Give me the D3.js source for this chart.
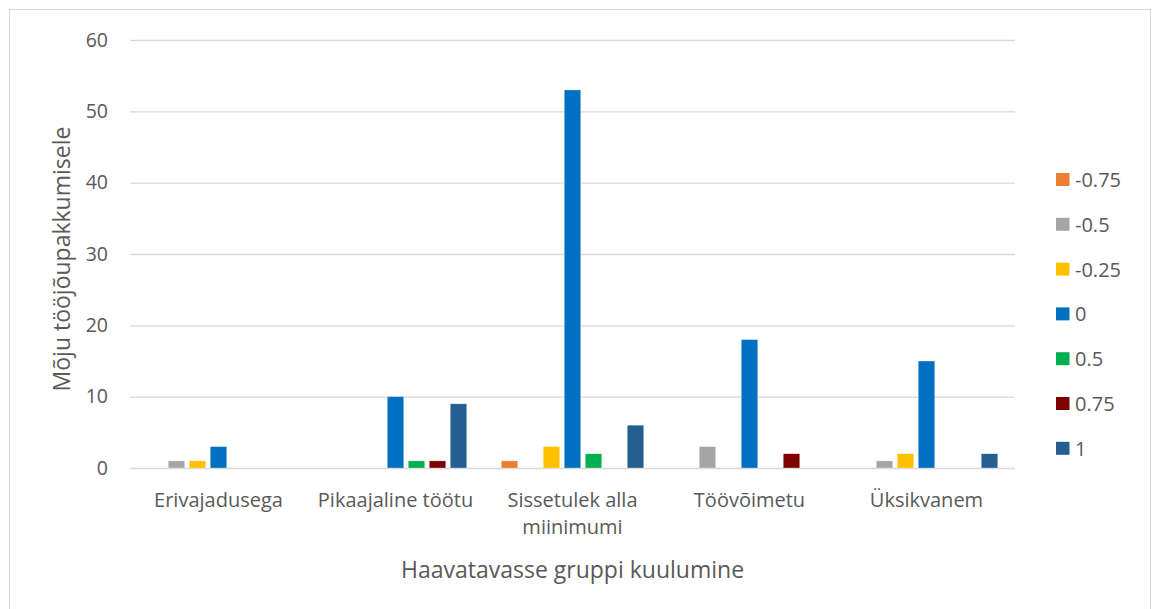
<!DOCTYPE html>
<html><head><meta charset="utf-8">
<script src="https://cdn.jsdelivr.net/npm/d3@7"></script>
<style>body{margin:0;background:#fff}svg{display:block}text{font-family:"Open Sans",sans-serif;fill:#595959}</style>
</head><body><svg id="c" width="1155" height="609"></svg>
<script>
const categories = ["Erivajadusega", "Pikaajaline töötu", "Sissetulek alla miinimumi", "Töövõimetu", "Üksikvanem"];
const categoryLines = [["Erivajadusega"], ["Pikaajaline töötu"], ["Sissetulek alla", "miinimumi"], ["Töövõimetu"], ["Üksikvanem"]];
const seriesNames = ["-0.75", "-0.5", "-0.25", "0", "0.5", "0.75", "1"];
const s_m075 = [0, 0, 1, 0, 0];
const s_m05  = [1, 0, 0, 3, 1];
const s_m025 = [1, 0, 3, 0, 2];
const s_0    = [3, 10, 53, 18, 15];
const s_05   = [0, 1, 2, 0, 0];
const s_075  = [0, 1, 0, 2, 0];
const s_1    = [0, 9, 6, 0, 2];
const seriesValues = [s_m075, s_m05, s_m025, s_0, s_05, s_075, s_1];
const colors = ["#ED7D31", "#A5A5A5", "#FFC000", "#0070C0", "#00B050", "#7F0000", "#255E91"];
const yTicks = [0, 10, 20, 30, 40, 50, 60];

const svg = d3.select("#c");
svg.append("rect").attr("x", 9.5).attr("y", 9.5).attr("width", 1141).attr("height", 620)
  .attr("fill", "#fff").attr("stroke", "#d9d9d9");

const L = 130, R = 1015, T = 40, B = 468;
const x = d3.scaleBand().domain(categories).range([L, R]).paddingInner(0).paddingOuter(0);
const y = d3.scaleLinear().domain([0, 60]).range([B, T]);
const step = 21, bw = 16.5;
const xs = d3.scaleBand().domain(seriesNames).range([-step * 3.5, step * 3.5]);

const g = svg.append("g");
const yAxis = d3.axisLeft(y).tickValues(yTicks).tickSize(-(R - L)).tickPadding(22);
const ga = g.append("g").attr("transform", `translate(${L},0)`).call(yAxis);
ga.select(".domain").remove();
ga.selectAll(".tick line").attr("stroke", "#d9d9d9").attr("stroke-width", 1.3);
ga.selectAll(".tick text").style("font-size", "19.5px").attr("fill", "#595959");

seriesNames.forEach((s, i) => {
  g.append("g").selectAll("rect").data(categories).join("rect")
    .attr("x", c => x(c) + x.bandwidth() / 2 + xs(s) + (step - bw) / 2)
    .attr("width", bw)
    .attr("y", (c, j) => y(seriesValues[i][j]))
    .attr("height", (c, j) => B - y(seriesValues[i][j]))
    .attr("fill", colors[i])
    .attr("stroke", "#fff").attr("stroke-width", 0.6).attr("stroke-opacity", 0.5);
});

// category labels
categories.forEach((c, j) => {
  const t = g.append("text").attr("x", x(c) + x.bandwidth() / 2).attr("y", 507)
    .attr("text-anchor", "middle").style("font-size", "20px");
  categoryLines[j].forEach((ln, k) => t.append("tspan").attr("x", x(c) + x.bandwidth() / 2).attr("dy", k ? 27 : 0).text(ln));
});

svg.append("text").attr("x", (L + R) / 2).attr("y", 578).attr("text-anchor", "middle")
  .style("font-size", "23px").text("Haavatavasse gruppi kuulumine");
svg.append("text").attr("transform", `translate(70,259) rotate(-90)`).attr("text-anchor", "middle")
  .style("font-size", "23px").text("Mõju tööjõupakkumisele");

// legend
const lg = svg.append("g");
seriesNames.forEach((s, i) => {
  const yy = 179.5 + i * 44.8;
  lg.append("rect").attr("x", 1056).attr("y", yy - 6.5).attr("width", 13.5).attr("height", 13).attr("fill", colors[i]);
  lg.append("text").attr("x", 1075).attr("y", yy + 7.5).style("font-size", "20px").text(s);
});
</script></body></html>
